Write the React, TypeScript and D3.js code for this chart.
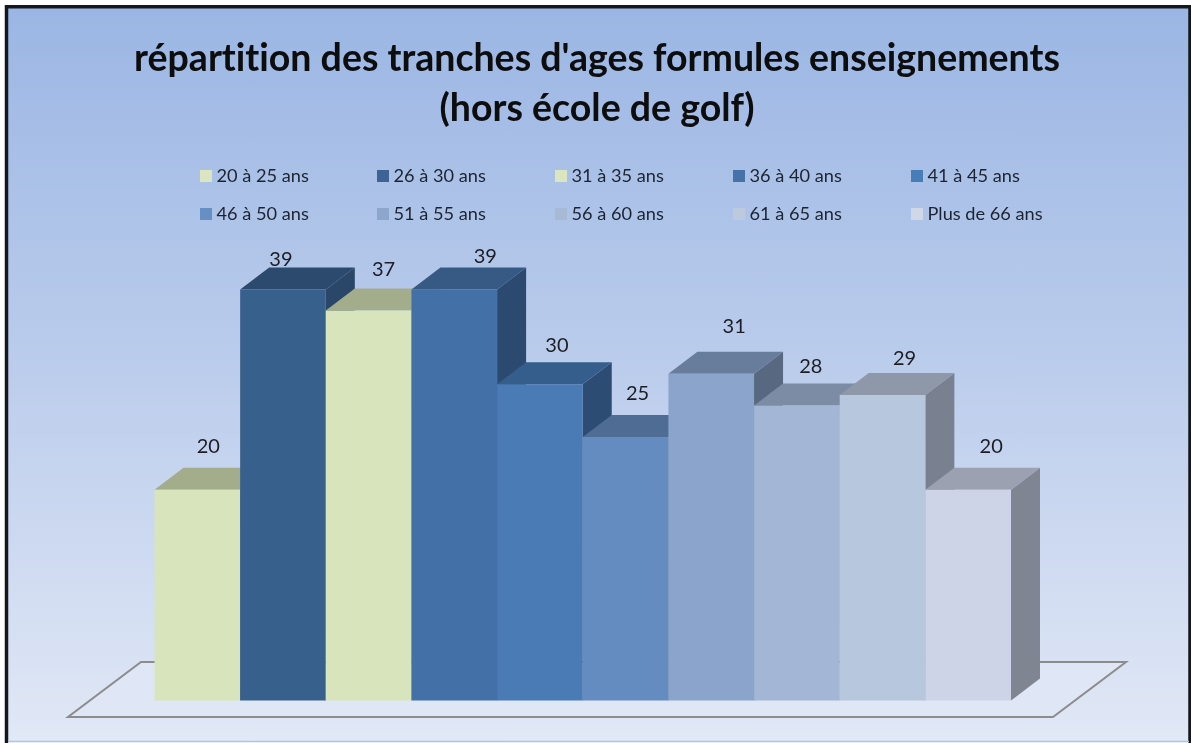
import React from "react";
import * as d3 from "d3";

const width = 1191;
const height = 743;

const titleLines = ["répartition des tranches d'ages formules enseignements", "(hors école de golf)"];
const categories = ["20 à 25 ans", "26 à 30 ans", "31 à 35 ans", "36 à 40 ans", "41 à 45 ans", "46 à 50 ans", "51 à 55 ans", "56 à 60 ans", "61 à 65 ans", "Plus de 66 ans"];
const values = [20, 39, 37, 39, 30, 25, 31, 28, 29, 20];

const frontColors = ["#d7e4bc", "#38608c", "#d7e4bc", "#4470a8", "#4a7bb5", "#648cc0", "#8aa4cc", "#a3b6d6", "#b7c7de", "#ced4e7"];
const topColors = ["#a3ad8c", "#2c4a6e", "#a3ad8c", "#375a85", "#365e8c", "#4e6c94", "#687c9c", "#7c8ca4", "#8e98a9", "#9ba1b0"];
const sideColors = ["#8a9478", "#2a4669", "#8a9478", "#2c4a70", "#2c4c74", "#3f5a80", "#586880", "#67748a", "#79808f", "#7f8692"];
const legendColors = ["#dbe6c0", "#3c6494", "#dbe6c0", "#4672a8", "#4a7db9", "#6690c4", "#8ca6cc", "#a8b9d6", "#bcc9de", "#d0d7e6"];

// label offsets from the middle of each bar's top, the original was placed by hand
const labelNudgeX = [11, -2, 15, 31, 17, 12, 23, 14, 22, 23];
const labelNudgeY = [-44, -31, -42, -34, -39, -44, -48, -39, -37, -44];

const legendColumns = [200, 377, 555, 733, 911];
const legendRows = [176, 214];

const xScale = d3.scaleBand<string>().domain(categories).range([154.5, 1011]);
const yScale = d3.scaleLinear().domain([0, 39]).range([700.6, 289.5]);
const depthX = 29;
const depthY = 22;

const facePath = d3.line<[number, number]>();

function Bar({ index }: { index: number }) {
  const category = categories[index];
  const x0 = xScale(category) as number;
  const x1 = x0 + xScale.bandwidth();
  const yTop = yScale(values[index]);
  const yBase = yScale(0);
  const front = facePath([[x0, yTop], [x1, yTop], [x1, yBase], [x0, yBase]]) as string;
  const top = facePath([[x0, yTop], [x0 + depthX, yTop - depthY], [x1 + depthX, yTop - depthY], [x1, yTop]]) as string;
  const side = facePath([[x1, yTop], [x1 + depthX, yTop - depthY], [x1 + depthX, yBase - depthY], [x1, yBase]]) as string;
  return (
    <g>
      <path d={side} fill={sideColors[index]} />
      <path d={top} fill={topColors[index]} />
      <path d={front} fill={frontColors[index]} />
    </g>
  );
}

export default function App() {
  return (
    <svg
      width={width}
      height={height}
      style={{ position: "absolute", left: 0, top: 0, display: "block", fontVariantLigatures: "none" }}
      fontFamily="Lato, 'Open Sans', sans-serif"
    >
      <defs>
        <linearGradient id="bg" x1="0" y1="0" x2="0" y2="1">
          <stop offset="0" stopColor="#9bb6e4" />
          <stop offset="0.5" stopColor="#bccdec" />
          <stop offset="1" stopColor="#e1e8f6" />
        </linearGradient>
        <filter id="soft" x="-5%" y="-20%" width="110%" height="140%">
          <feGaussianBlur stdDeviation="0.45" />
        </filter>
      </defs>

      <rect width={width} height={height} fill="#fff" />
      <rect x={6} y={7} width={1184} height={734} fill="url(#bg)" />
      <path d="M6.5 743V6.7H1190V743" stroke="#14181c" strokeWidth={3.5} fill="none" />
      <path d="M8 741.5H1189" stroke="#a9c6ea" strokeWidth={1.5} fill="none" />

      <path
        d={facePath([[141, 662], [1126, 662], [1053, 717], [68, 717]]) + "Z"}
        fill="#dfe6f5"
        stroke="#8c8c8c"
        strokeWidth={2}
      />

      {categories.map((c, i) => (
        <Bar key={c} index={i} />
      ))}

      <g filter="url(#soft)">
        {titleLines.map((line, i) => (
          <text key={line} x={597} y={71 + i * 50} textAnchor="middle" fontSize={37.5} fontWeight={700} fill="#0a0a0a">
            {line}
          </text>
        ))}
        {categories.map((c, i) => {
          const col = legendColumns[i % 5];
          const row = legendRows[Math.floor(i / 5)];
          return (
            <g key={c}>
              <rect x={col} y={row - 6} width={12} height={12} fill={legendColors[i]} />
              <text x={col + 16.5} y={row + 5.5} fontSize={18.2} fill="#1c2430">
                {c}
              </text>
            </g>
          );
        })}
        {values.map((v, i) => (
          <text
            key={categories[i]}
            x={(xScale(categories[i]) as number) + xScale.bandwidth() / 2 + labelNudgeX[i]}
            y={yScale(v) + labelNudgeY[i]}
            dy="0.35em"
            textAnchor="middle"
            fontSize={20}
            fill="#1c1f24"
          >
            {v}
          </text>
        ))}
      </g>
    </svg>
  );
}
